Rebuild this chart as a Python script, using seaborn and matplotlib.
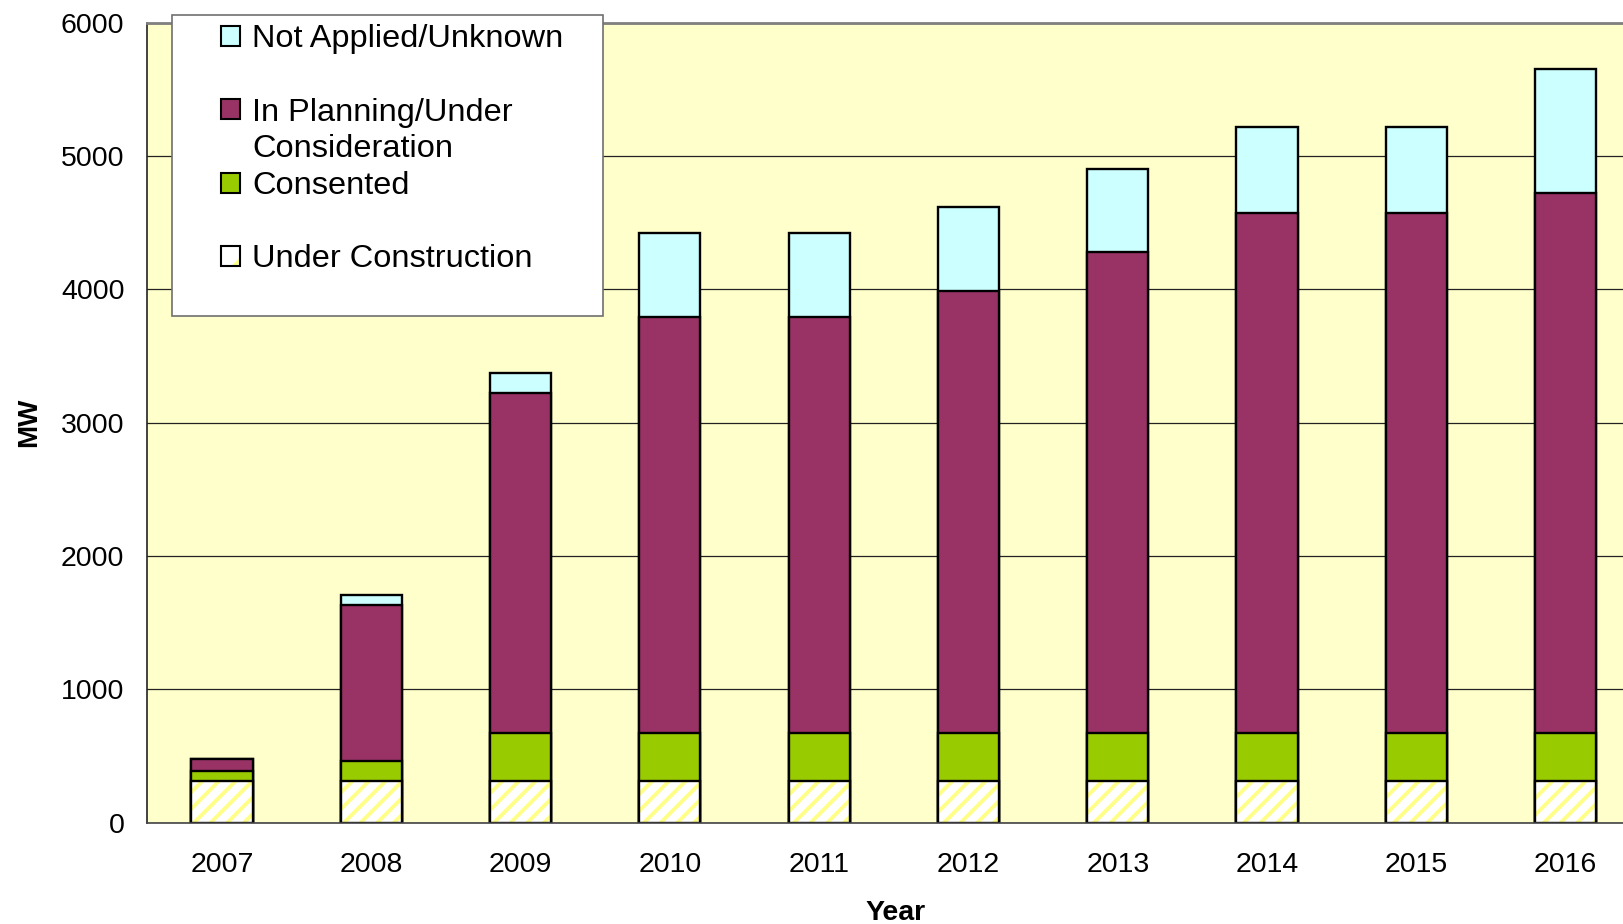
import numpy as np
import pandas as pd
import matplotlib
matplotlib.use("Agg")
import matplotlib.pyplot as plt
from matplotlib.patches import Patch, Rectangle
import seaborn as sns

# ---------------- data ----------------
years = ["2007", "2008", "2009", "2010", "2011", "2012", "2013", "2014", "2015", "2016"]
under_construction = [315, 315, 315, 315, 315, 315, 315, 315, 315, 315]
consented = [75, 150, 360, 360, 360, 360, 360, 360, 360, 360]
in_planning = [88, 1168, 2550, 3120, 3120, 3315, 3605, 3900, 3900, 4050]
not_applied = [0, 75, 150, 630, 630, 630, 625, 645, 645, 930]
yticks = [0, 1000, 2000, 3000, 4000, 5000, 6000]

lbl_na = "Not Applied/Unknown"
lbl_pl1 = "In Planning/Under"
lbl_pl2 = "Consideration"
lbl_co = "Consented"
lbl_uc = "Under Construction"

c_na = "#CCFFFF"
c_pl = "#993366"
c_co = "#99CC00"
c_uc_hatch = "#FFFF88"
c_bg = "#FFFFCC"

# ---------------- style ----------------
sns.set_theme(style="white")
plt.rcParams["font.family"] = ["Liberation Sans", "DejaVu Sans"]
plt.rcParams["hatch.linewidth"] = 2.8
plt.rcParams["text.color"] = "black"
plt.rcParams["axes.labelcolor"] = "black"
plt.rcParams["xtick.color"] = "black"
plt.rcParams["ytick.color"] = "black"

df = pd.DataFrame({
    "year": years,
    "uc": under_construction,
    "co": consented,
    "pl": in_planning,
    "na": not_applied,
})
df["cum_co"] = df["uc"] + df["co"]
df["cum_pl"] = df["cum_co"] + df["pl"]
df["cum_na"] = df["cum_pl"] + df["na"]

W, H = 1623, 924
fig = plt.figure(figsize=(W / 100, H / 100), dpi=100)
ax_left, ax_right, ax_top, ax_bottom = 147.3, 1623.0, 22.7, 822.7
ax = fig.add_axes([ax_left / W, (H - ax_bottom) / H,
                   (ax_right - ax_left) / W, (ax_bottom - ax_top) / H])
ax.set_facecolor(c_bg)

bw = 0.41
lw = 1.7
sns.barplot(data=df, x="year", y="cum_na", color=c_na, saturation=1,
            edgecolor="black", linewidth=lw, width=bw, ax=ax)
sns.barplot(data=df, x="year", y="cum_pl", color=c_pl, saturation=1,
            edgecolor="black", linewidth=lw, width=bw, ax=ax)
sns.barplot(data=df, x="year", y="cum_co", color=c_co, saturation=1,
            edgecolor="black", linewidth=lw, width=bw, ax=ax)
# hatched under-construction layer (hatch takes the edge colour)
sns.barplot(data=df, x="year", y="uc", color="white", saturation=1,
            edgecolor=c_uc_hatch, linewidth=0, width=bw, hatch="//", ax=ax)
# black outline on top
sns.barplot(data=df, x="year", y="uc", color="black", fill=False,
            linewidth=lw, width=bw, ax=ax)

# ---------------- axes ----------------
ax.set_yticks(yticks)
ax.set_yticklabels([str(v) for v in yticks], fontsize=20.5)
ax.set_xticks(range(len(years)))
ax.set_xticklabels(years, fontsize=20.5)
ax.set_xticks(np.arange(-0.5, len(years), 1.0), minor=True)
px_per_unit = 149.3
ax.set_xlim(-0.5, -0.5 + (ax_right - ax_left) / px_per_unit)
ax.set_ylim(0, 6000)
ax.tick_params(axis="x", which="major", length=0, pad=21)
ax.tick_params(axis="x", which="minor", length=6.5, width=1.0, color="#404040", direction="out")
ax.tick_params(axis="y", which="major", length=6.5, width=1.0, color="#404040",
               direction="out", pad=10, labelcolor="black")

ax.yaxis.grid(True, color="#222222", linewidth=0.9)
ax.xaxis.grid(False)
ax.set_axisbelow(True)

ax.spines["left"].set_color("#222222")
ax.spines["left"].set_linewidth(1.2)
ax.spines["bottom"].set_color("#444444")
ax.spines["bottom"].set_linewidth(1.2)
ax.spines["top"].set_color("#808080")
ax.spines["top"].set_linewidth(2.0)
ax.spines["right"].set_visible(False)

ax.set_xlabel("Year", fontsize=20.5, fontweight="bold")
ax.set_ylabel("MW", fontsize=20, fontweight="bold")
ax.xaxis.set_label_coords((895.7 - ax_left) / (ax_right - ax_left),
                          (ax_bottom - 913) / (ax_bottom - ax_top))
ax.xaxis.label.set_verticalalignment("center")
ax.yaxis.set_label_coords((29 - ax_left) / (ax_right - ax_left), 0.5)
ax.yaxis.label.set_verticalalignment("center")

# ---------------- legend ----------------
box = Rectangle((172 / W, 1 - 316 / H), 431 / W, 301.5 / H,
                transform=fig.transFigure, facecolor="white",
                edgecolor="#707070", linewidth=1.2, zorder=20, clip_on=False)
fig.add_artist(box)

blank = Patch(facecolor="none", edgecolor="none")
h_na = Patch(facecolor=c_na, edgecolor="black", linewidth=1.5)
h_pl = Patch(facecolor=c_pl, edgecolor="black", linewidth=1.5)
h_co = Patch(facecolor=c_co, edgecolor="black", linewidth=1.5)
h_uc = (Patch(facecolor="white", edgecolor=c_uc_hatch, linewidth=0, hatch="/"),
        Patch(facecolor="none", edgecolor="black", linewidth=1.5))
handles = [h_na, blank, h_pl, blank, h_co, blank, h_uc]
labels = [lbl_na, " ", lbl_pl1, lbl_pl2, lbl_co, " ", lbl_uc]
leg_fs = 23.4
leg = fig.legend(handles, labels, loc="upper left",
                 bbox_to_anchor=(221.5 / W, 1 - 24.5 / H), bbox_transform=fig.transFigure,
                 frameon=False, borderpad=0, borderaxespad=0,
                 handlelength=0.58, handleheight=0.58, handletextpad=0.36,
                 labelspacing=0.205, fontsize=leg_fs)
leg.set_zorder(21)

fig.savefig("out.png", dpi=100, facecolor="white")
